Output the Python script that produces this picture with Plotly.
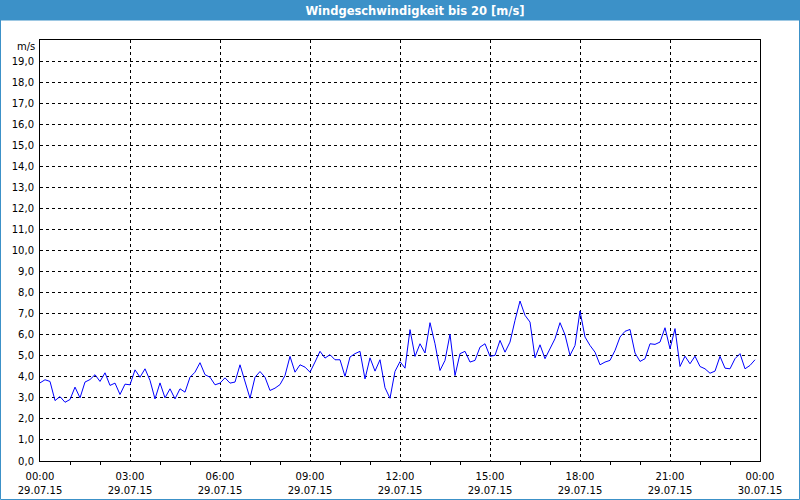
import pandas as pd
import plotly.graph_objects as go

title_text = "Windgeschwindigkeit bis 20 [m/s]"
unit_label = "m/s"
start_time = "2015-07-29 00:00"
end_time = "2015-07-30 00:00"

speed = [
    3.71, 3.86, 3.78, 2.87, 3.06, 2.79, 2.92, 3.51, 3.00, 3.75,
    3.87, 4.10, 3.78, 4.19, 3.59, 3.70, 3.16, 3.65, 3.62, 4.33,
    3.98, 4.38, 3.83, 2.95, 3.71, 3.00, 3.43, 2.95, 3.43, 3.27,
    3.98, 4.22, 4.67, 4.10, 3.98, 3.62,
    3.70, 3.95, 3.70, 3.75, 4.57, 3.83, 2.98, 3.98, 4.25, 3.98,
    3.35, 3.46, 3.63, 4.06, 4.97, 4.22, 4.57, 4.46, 4.22, 4.70,
    5.21, 4.89, 5.05, 4.81, 4.81, 4.02, 4.94, 5.10, 5.21, 3.90,
    4.90, 4.27, 4.81, 3.48, 2.98, 4.26, 4.72,
    4.41, 6.24, 4.97, 5.57, 5.13, 6.57, 5.57, 4.30, 4.78, 6.02,
    4.06, 5.10, 5.21, 4.70, 4.78, 5.41, 5.57, 4.97, 5.02, 5.73,
    5.17, 5.65, 6.68, 7.60, 6.92, 6.60, 4.90, 5.52, 4.86, 5.33,
    5.81, 6.57, 6.00,
    5.02, 5.49, 7.13, 5.89, 5.49, 5.17, 4.57, 4.70, 4.78, 5.25,
    5.89, 6.16, 6.25, 5.13, 4.73, 4.86, 5.57, 5.54, 5.65, 6.33,
    5.33, 6.29, 4.49, 4.98, 4.62, 4.98, 4.49, 4.38, 4.17, 4.27,
    4.97, 4.41, 4.38, 4.86, 5.10, 4.38, 4.54, 4.81,
]
times = pd.date_range(start_time, periods=len(speed), freq="10min")
y_ticks = list(range(0, 20))

W, H = 800, 500
L, R, T, B = 40, 40, 40, 39
pw, ph = W - L - R, H - T - B

def px_x(x):
    return (x - L) / pw

def px_y(y):
    return (H - B - y) / ph

font = dict(family="DejaVu Sans", size=10, color="#000000")
blue = "#3c91c8"

fig = go.Figure()
fig.add_trace(go.Scatter(x=times, y=speed, mode="lines",
                         line=dict(color="#0000ff", width=1), showlegend=False))
# invisible trace for second axis (dates)
fig.add_trace(go.Scatter(x=[start_time, end_time], y=[0, 0], xaxis="x2",
                         mode="lines", line=dict(width=0), hoverinfo="skip",
                         showlegend=False))

fig.update_layout(
    width=W, height=H,
    margin=dict(l=L, r=R, t=T, b=B),
    paper_bgcolor="#ffffff", plot_bgcolor="#ffffff",
    separators=",.",
    font=font,
    title=dict(text="<b>" + title_text + "</b>", x=415 / W, xanchor="center",
               xref="container", yref="container", y=1 - 10.5 / H, yanchor="middle",
               font=dict(family="DejaVu Sans", size=11.5, color="#ffffff"),
               automargin=False),
    xaxis=dict(type="date", range=[start_time, end_time],
               dtick=3 * 3600000, tick0=start_time, tickformat="%H:%M",
               showgrid=True, gridcolor="#000000", gridwidth=1, griddash="3px,3px",
               showline=True, linecolor="#000000", linewidth=1, mirror=True,
               ticks="", ticklabelstandoff=6, automargin=False,
               minor=dict(dtick=3600000, tick0=start_time, ticks="outside",
                          ticklen=3, tickcolor="#000000", showgrid=False),
               zeroline=False, tickfont=font),
    xaxis2=dict(type="date", range=[start_time, end_time], overlaying="x",
                anchor="y", side="bottom", automargin=False,
                dtick=3 * 3600000, tick0=start_time, tickformat="%d.%m.%y",
                showgrid=False, showline=False, ticks="",
                ticklabelstandoff=22, tickfont=font),
    yaxis=dict(range=[0, 20], tickvals=y_ticks, tickformat=".1f",
               showgrid=True, gridcolor="#000000", gridwidth=1, griddash="3px,3px",
               showline=True, linecolor="#000000", linewidth=1, mirror=True,
               ticks="", ticklabelstandoff=3, zeroline=False, tickfont=font,
               automargin=False),
    shapes=[
        dict(type="rect", xref="paper", yref="paper",
             x0=px_x(0), x1=px_x(W), y0=px_y(0), y1=px_y(20.5),
             fillcolor=blue, line=dict(width=0), layer="above"),
        dict(type="rect", xref="paper", yref="paper",
             x0=px_x(0.5), x1=px_x(W - 0.5), y0=px_y(0.5), y1=px_y(H - 0.5),
             fillcolor="rgba(0,0,0,0)", line=dict(color=blue, width=1), layer="above"),
    ],
    annotations=[
        dict(text=unit_label, xref="paper", yref="y", x=0, y=19.7,
             xanchor="right", yanchor="middle", xshift=-3, showarrow=False,
             font=font),
    ],
)

fig.write_html("out.html")
